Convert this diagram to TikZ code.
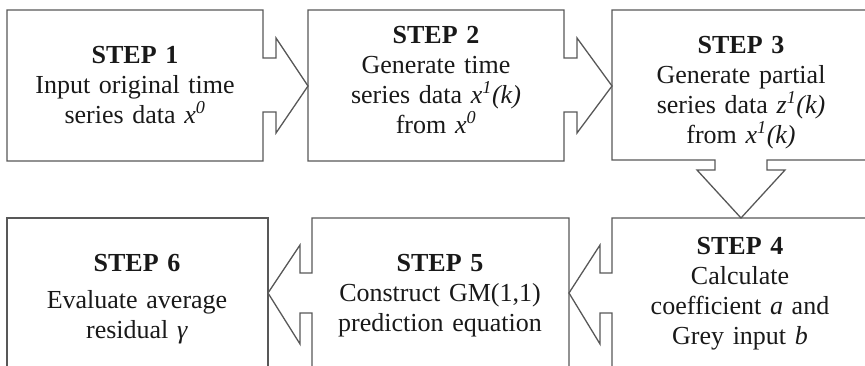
\documentclass[tikz,border=0pt]{standalone}
\usepackage{fontspec}
\setmainfont{Liberation Serif}
\definecolor{linegray}{RGB}{88,88,88}
\definecolor{textblack}{RGB}{25,25,25}
\begin{document}
\begin{tikzpicture}[x=1pt,y=-1pt,line join=miter,
  boxline/.style={draw=linegray,line width=1.3pt},
  steptext/.style={anchor=base,inner sep=0pt,text width=255pt,align=center,
    font=\fontsize{26}{30}\selectfont,text=textblack}]
\useasboundingbox (0,0) rectangle (865,365);
\begin{scope}
\clip (0,0) rectangle (865,365);
% STEP 1 (arrow right)
\draw[boxline] (7,10) -- (263,10) -- (263,58) -- (276,58) -- (276,38) -- (308,86)
  -- (276,133) -- (276,112) -- (263,112) -- (263,161) -- (7,161) -- cycle;
% STEP 2 (arrow right)
\draw[boxline] (308,10) -- (564,10) -- (564,58) -- (577,58) -- (577,38) -- (612,86)
  -- (577,133) -- (577,112) -- (564,112) -- (564,161) -- (308,161) -- cycle;
% STEP 3 (arrow down)
\draw[boxline] (612,10) -- (872,10) -- (872,160) -- (767,160) -- (767,170) -- (785,170)
  -- (741,218) -- (697,170) -- (715,170) -- (715,160) -- (612,160) -- cycle;
% STEP 4 (arrow left)
\draw[boxline] (872,218) -- (612,218) -- (612,273) -- (600,273) -- (600,245) -- (569,293)
  -- (600,344) -- (600,313) -- (612,313) -- (612,372) -- (872,372) -- cycle;
% STEP 5 (arrow left)
\draw[boxline] (569,218) -- (312,218) -- (312,273) -- (300,273) -- (300,245) -- (268,293)
  -- (300,344) -- (300,313) -- (312,313) -- (312,372) -- (569,372) -- cycle;
% STEP 6
\draw[boxline] (7,218) -- (268,218) -- (268,372) -- (7,372) -- cycle;
\end{scope}
\node[steptext] (t1) at (135,63) {\textbf{STEP 1}\\Input original time\\series data \textit{x}\textsuperscript{\textit{0}}};
\node[steptext] (t2) at (436,43) {\textbf{STEP 2}\\Generate time\\series data \textit{x}\textsuperscript{\textit{1}}\textit{(k)}\\from \textit{x}\textsuperscript{\textit{0}}};
\node[steptext] (t3) at (741,53) {\textbf{STEP 3}\\Generate partial\\series data \textit{z}\textsuperscript{\textit{1}}\textit{(k)}\\from \textit{x}\textsuperscript{\textit{1}}\textit{(k)}};
\node[steptext] (t4) at (740,254) {\textbf{STEP 4}\\Calculate\\coefficient \textit{a} and\\Grey input \textit{b}};
\node[steptext] (t5) at (440,271) {\textbf{STEP 5}\\Construct GM(1,1)\\prediction equation};
\node[steptext] (t6) at (137,271) {\textbf{STEP 6}\\[7pt]Evaluate average\\residual \textit{γ}};
\end{tikzpicture}
\end{document}
